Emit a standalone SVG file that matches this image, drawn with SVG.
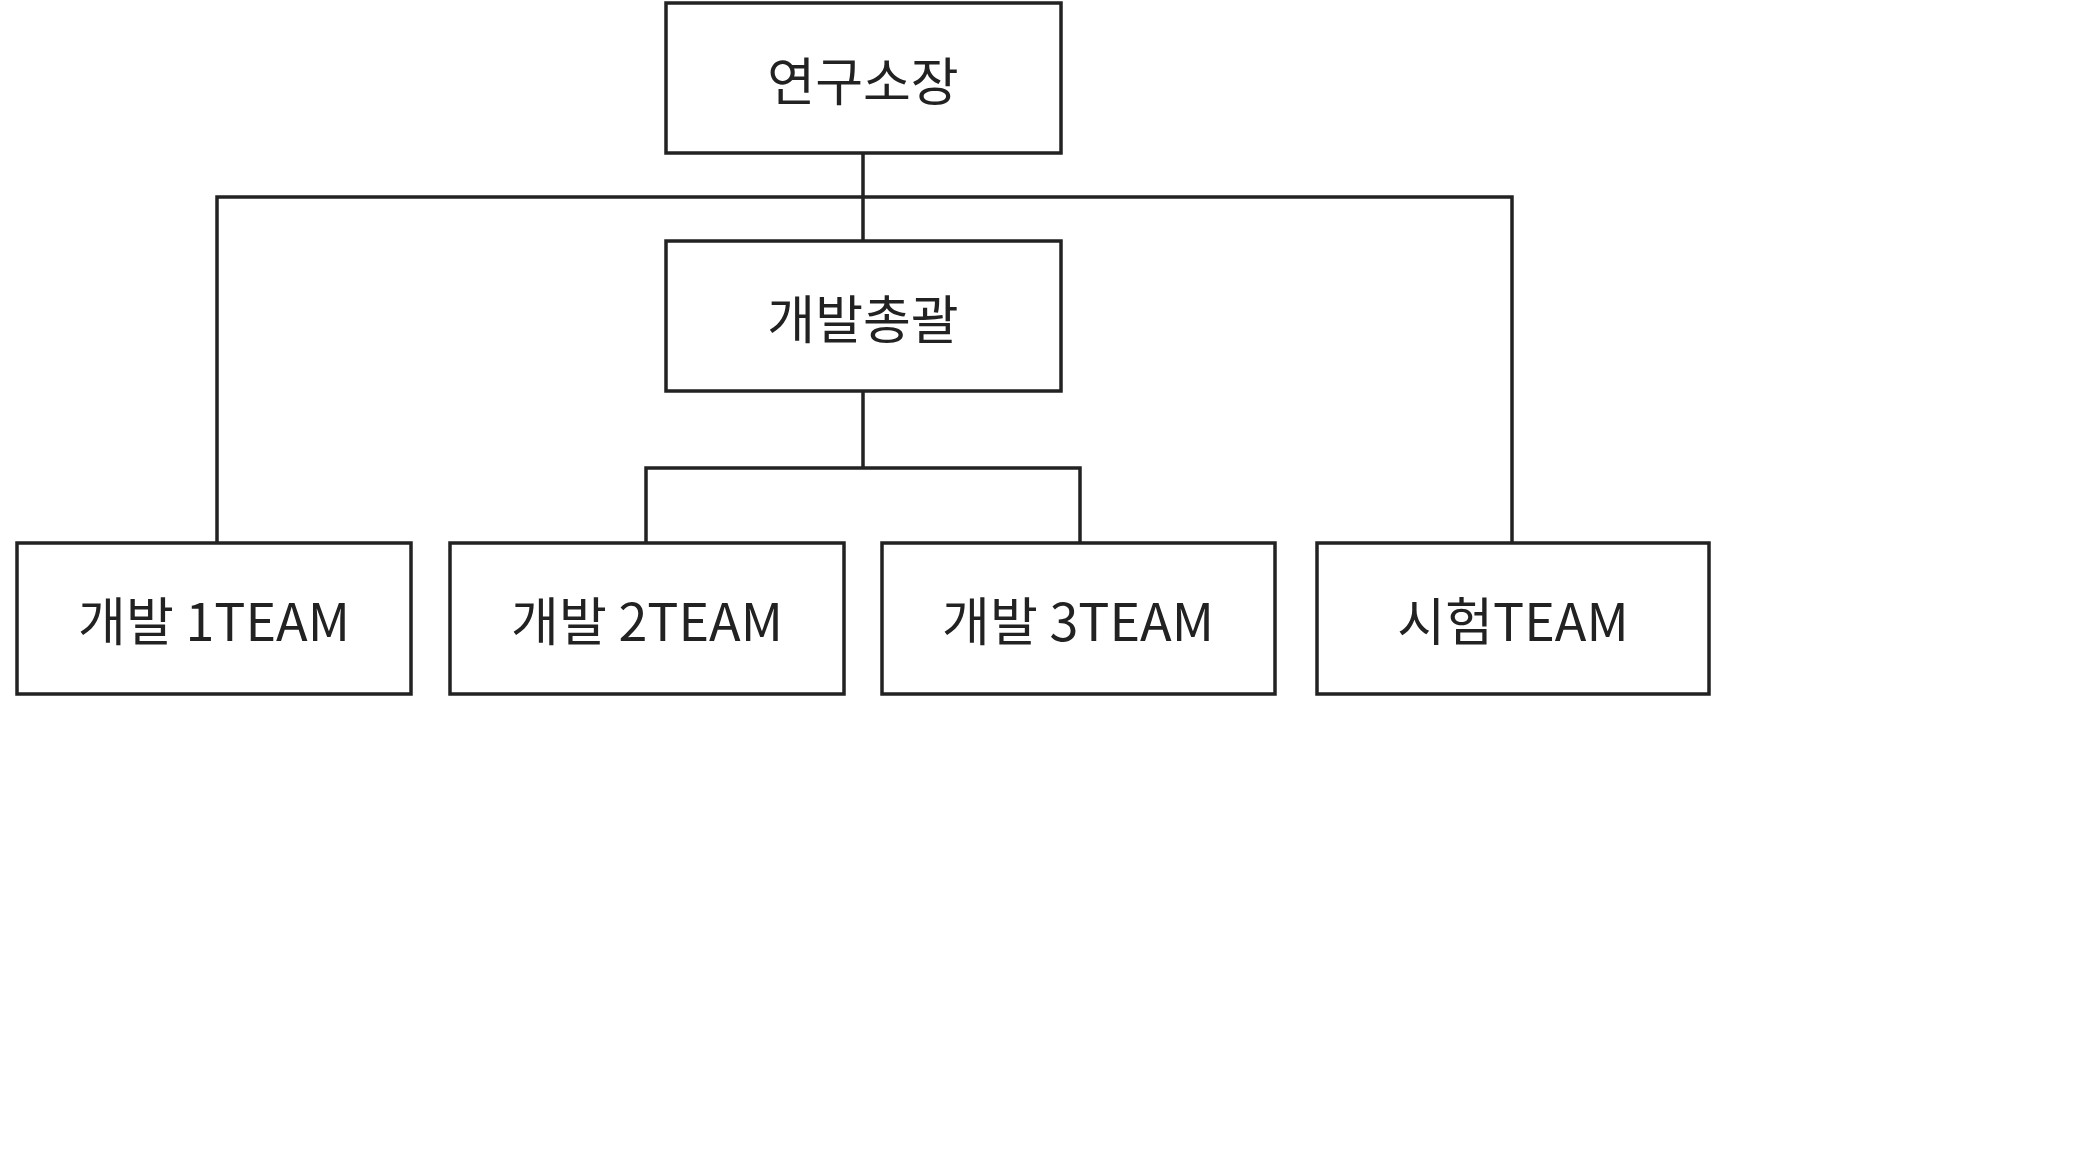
<svg xmlns="http://www.w3.org/2000/svg" width="2074" height="1167" viewBox="0 0 2074 1167">
<style>
.box{fill:#fff;stroke:#222;stroke-width:3.5}
.ln{fill:none;stroke:#222;stroke-width:3.5}
text{font-family:"Noto Sans CJK KR","Noto Sans",sans-serif;font-size:52px;fill:#222;text-anchor:middle;dominant-baseline:central}
</style>
<rect width="2074" height="1167" fill="#fff"/>
<g id="connectors">
<path class="ln" d="M863 153V241M217 543V197H1512V543M863 391V468M646 543V468H1080V543"/>
</g>
<g id="n0"><rect class="box" x="666" y="3" width="395" height="150"/><text x="863" y="78">연구소장</text></g>
<g id="n1"><rect class="box" x="666" y="241" width="395" height="150"/><text x="863" y="316">개발총괄</text></g>
<g id="n2"><rect class="box" x="17" y="543" width="394" height="151"/><text x="214" y="618">개발 1TEAM</text></g>
<g id="n3"><rect class="box" x="450" y="543" width="394" height="151"/><text x="647" y="618">개발 2TEAM</text></g>
<g id="n4"><rect class="box" x="882" y="543" width="393" height="151"/><text x="1078" y="618">개발 3TEAM</text></g>
<g id="n5"><rect class="box" x="1317" y="543" width="392" height="151"/><text x="1513" y="618">시험TEAM</text></g>
</svg>
